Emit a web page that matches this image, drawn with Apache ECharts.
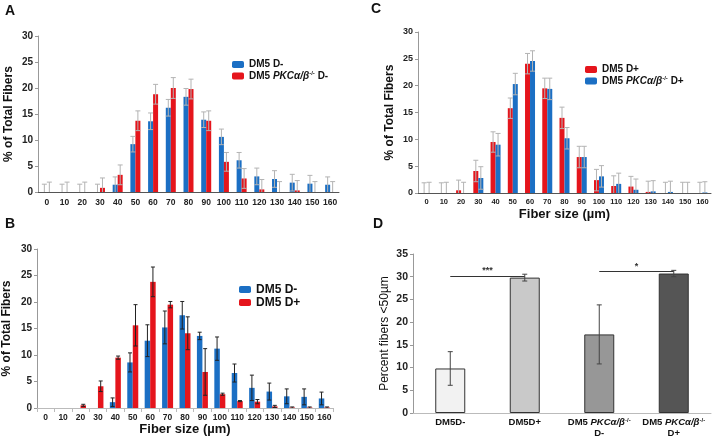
<!DOCTYPE html>
<html>
<head>
<meta charset="utf-8">
<script src="https://cdn.jsdelivr.net/npm/echarts@6/dist/echarts.min.js"></script>
<style>html,body{margin:0;padding:0;background:#fff}#c{width:716px;height:441px}</style>
</head>
<body>
<div id="c"></div>
<script>
// ---------- DATA ----------
const sizeCats = ['0','10','20','30','40','50','60','70','80','90','100','110','120','130','140','150','160'];

// Panel A
const aDm5Dminus     = [0,0,0,0,1.4,9.2,13.6,16.2,18.3,13.9,10.6,6.1,3.0,2.5,1.8,1.6,1.4];
const aDm5DminusErr  = [1.5,1.5,1.5,1.5,1.5,1.5,1.6,1.6,1.6,1.5,1.5,1.5,1.6,1.6,1.6,1.6,1.5];
const aPkcDminus     = [0,0,0,0.8,3.3,13.7,18.8,20.0,19.8,13.7,5.8,2.6,0.5,0,0.3,0,0];
const aPkcDminusErr  = [1.9,1.9,1.9,1.9,1.9,1.9,1.9,2.0,1.9,1.9,1.8,1.9,1.9,2.0,1.9,2.0,2.0];

// Panel B
const bDm5Dminus     = [0,0,0,0,1.1,8.6,12.7,15.2,17.5,13.6,11.2,6.6,3.8,3.1,2.2,2.1,1.8];
const bDm5DminusErr  = [0,0,0,0,0.8,1.8,3.0,3.1,2.6,0.7,2.2,1.7,2.4,1.6,1.4,1.5,1.2];
const bDm5Dplus      = [0,0,0.5,4.1,9.5,15.6,23.8,19.5,14.1,6.8,2.6,1.3,1.2,0.3,0.1,0.1,0.1];
const bDm5DplusErr   = [0,0,0.2,1.0,0.3,3.9,2.8,0.6,3.1,4.4,0.2,0.1,0.4,0.2,0.1,0.1,0.1];

// Panel C
const cDm5Dplus      = [0,0,0.5,4.1,9.5,15.8,24.1,19.5,14.0,6.7,2.4,1.3,1.2,0.2,0,0,0];
const cDm5DplusErr   = [1.9,1.9,1.9,2.0,1.9,1.9,1.9,1.9,2.0,2.0,2.0,1.9,1.9,2.0,2.0,2.0,2.0];
const cPkcDplus      = [0,0,0,2.8,9.0,20.3,24.6,19.4,10.2,6.7,3.1,1.7,0.6,0.3,0.2,0,0.1];
const cPkcDplusErr   = [2.0,2.0,2.0,2.1,2.1,2.0,1.9,2.0,2.0,2.0,2.0,2.0,2.0,2.0,2.0,2.0,2.0];

// Panel D
const dCats = ['DM5D-','DM5D+','DM5 {i|PKCα/β}{s|-/-}\nD-','DM5 {i|PKCα/β}{s|-/-}\nD+'];
const dVals = [9.8, 29.8, 17.3, 30.7];
const dErr  = [3.7, 0.75, 6.5, 0.7];
const dSig  = [{from:0, to:1, y:30.2, label:'***'}, {from:2, to:3, y:31.1, label:'*'}];

// ---------- STYLE ----------
const BLUE = '#1b6fc4', RED = '#e5151c';
const dColors = ['#f2f2f2','#c9c9c9','#979797','#555555'];
const FONT = 'Liberation Sans, Arial, sans-serif';
const legendRich = {
  i:{fontStyle:'italic', fontWeight:'bold', fontFamily:FONT},
  s:{fontSize:6, fontWeight:'bold', fontFamily:FONT, padding:[0,0,6,0]}
};
function legendFmt(name){
  return name.replace('PKCα/β-/-', '{i|PKCα/β}{s|-/-}');
}

function errSeries(ax, vals, errs, side, barW, color, capW){
  return {
    type:'custom', xAxisIndex:ax, yAxisIndex:ax, z:5, silent:true,
    data: vals.map((v,i)=>[i, v, errs[i]]),
    encode:{x:0, y:1},
    renderItem: function(params, api){
      const i = api.value(0), v = api.value(1), e = api.value(2);
      if (!e) return null;
      const hi = api.coord([i, v + e]);
      const loV = Math.max(0, v - e);
      const lo = api.coord([i, loV]);
      const x = hi[0] + side * barW / 2;
      const st = {stroke: color, lineWidth: 1};
      const ch = [
        {type:'line', shape:{x1:x, y1:hi[1], x2:x, y2:lo[1]}, style:st},
        {type:'line', shape:{x1:x-capW/2, y1:hi[1], x2:x+capW/2, y2:hi[1]}, style:st}
      ];
      if (v - e > 0) ch.push({type:'line', shape:{x1:x-capW/2, y1:lo[1], x2:x+capW/2, y2:lo[1]}, style:st});
      return {type:'group', children: ch};
    }
  };
}

function yAxisFor(gi, max, interval, fontSize, name, nameGap, bold, nameSize){
  return {
    type:'value', gridIndex:gi, min:0, max:max, interval:interval,
    axisLine:{show:true, lineStyle:{color:'#999'}},
    axisTick:{show:true, length:3, lineStyle:{color:'#999'}},
    splitLine:{show:false},
    axisLabel:{fontFamily:FONT, fontWeight:'bold', fontSize:fontSize, color:'#222', margin:5},
    name:name, nameLocation:'middle', nameRotate:90, nameGap:nameGap,
    nameTextStyle:{fontFamily:FONT, fontWeight: bold ? 'bold' : 'normal', fontSize:nameSize, color:'#111'}
  };
}

const barA = 5, barB = 5.5, barC = 5;

const option = {
  animation:false,
  backgroundColor:'#fff',
  title:[
    {text:'A', left:5, top:4, padding:0, textStyle:{fontFamily:FONT, fontSize:14, fontWeight:'bold', color:'#111'}},
    {text:'C', left:371, top:2, padding:0, textStyle:{fontFamily:FONT, fontSize:14, fontWeight:'bold', color:'#111'}},
    {text:'B', left:5, top:217, padding:0, textStyle:{fontFamily:FONT, fontSize:14, fontWeight:'bold', color:'#111'}},
    {text:'D', left:373, top:217, padding:0, textStyle:{fontFamily:FONT, fontSize:14, fontWeight:'bold', color:'#111'}}
  ],
  grid:[
    {left:38, top:36, width:301, height:156},
    {left:37, top:249, width:296, height:159},
    {left:418, top:32, width:293, height:161},
    {left:413, top:254, width:298, height:159}
  ],
  legend:[
    {orient:'vertical', left:232, top:59, padding:0, itemGap:0, itemWidth:12, itemHeight:7,
     data:['DM5 D-','DM5 PKCα/β-/- D-'], formatter:legendFmt, selectedMode:false,
     textStyle:{fontFamily:FONT, fontWeight:'bold', fontSize:10, lineHeight:11, color:'#111', rich:legendRich}},
    {orient:'vertical', left:239, top:283, padding:0, itemGap:0, itemWidth:12, itemHeight:7,
     data:['DM5 D-','DM5 D+'], selectedMode:false,
     textStyle:{fontFamily:FONT, fontWeight:'bold', fontSize:12, lineHeight:13, color:'#111'}},
    {orient:'vertical', left:585, top:64, padding:0, itemGap:0, itemWidth:12, itemHeight:7,
     data:['DM5 D+','DM5 PKCα/β-/- D+'], formatter:legendFmt, selectedMode:false,
     textStyle:{fontFamily:FONT, fontWeight:'bold', fontSize:10, lineHeight:11, color:'#111', rich:legendRich}}
  ],
  xAxis:[
    {type:'category', gridIndex:0, data:sizeCats,
     axisLine:{lineStyle:{color:'#555'}}, axisTick:{show:false},
     axisLabel:{fontFamily:FONT, fontWeight:'bold', fontSize:8.5, color:'#222', margin:6, interval:0}},
    {type:'category', gridIndex:1, data:sizeCats,
     axisLine:{lineStyle:{color:'#bbb'}}, axisTick:{show:true, length:4, lineStyle:{color:'#bbb'}},
     axisLabel:{fontFamily:FONT, fontWeight:'bold', fontSize:8.5, color:'#222', margin:5, interval:0},
     name:'Fiber size (µm)', nameLocation:'middle', nameGap:14,
     nameTextStyle:{fontFamily:FONT, fontWeight:'bold', fontSize:13, color:'#111', verticalAlign:'top'}},
    {type:'category', gridIndex:2, data:sizeCats,
     axisLine:{lineStyle:{color:'#555'}}, axisTick:{show:false},
     axisLabel:{fontFamily:FONT, fontWeight:'bold', fontSize:7.5, color:'#222', margin:5, interval:0},
     name:'Fiber size (µm)', nameLocation:'middle', nameGap:15,
     nameTextStyle:{fontFamily:FONT, fontWeight:'bold', fontSize:13, color:'#111', verticalAlign:'top'}},
    {type:'category', gridIndex:3, data:dCats,
     axisLine:{lineStyle:{color:'#bbb'}}, axisTick:{show:false},
     axisLabel:{fontFamily:FONT, fontWeight:'bold', fontSize:9.5, lineHeight:11, color:'#111', margin:4, interval:0,
       rich:{i:{fontStyle:'italic', fontWeight:'bold', fontSize:9.5, fontFamily:FONT},
             s:{fontSize:6, fontWeight:'bold', fontFamily:FONT, padding:[0,0,5,0]}}}}
  ],
  yAxis:[
    yAxisFor(0, 30, 5, 10, '% of Total Fibers', 23, true, 12),
    yAxisFor(1, 30, 5, 10, '% of Total Fibers', 24, true, 12),
    yAxisFor(2, 30, 5, 9, '% of Total Fibers', 22, true, 12),
    yAxisFor(3, 35, 5, 10.5, 'Percent fibers <50µm', 22, false, 12)
  ],
  series:[
    // Panel A
    {name:'DM5 D-', type:'bar', xAxisIndex:0, yAxisIndex:0, data:aDm5Dminus, barWidth:barA, barGap:'0%', itemStyle:{color:BLUE}},
    {name:'DM5 PKCα/β-/- D-', type:'bar', xAxisIndex:0, yAxisIndex:0, data:aPkcDminus, barWidth:barA, barGap:'0%', itemStyle:{color:RED}},
    errSeries(0, aDm5Dminus, aDm5DminusErr, -1, barA, '#b3b3b3', 5),
    errSeries(0, aPkcDminus, aPkcDminusErr, 1, barA, '#b3b3b3', 5),
    // Panel B
    {name:'DM5 D-', type:'bar', xAxisIndex:1, yAxisIndex:1, data:bDm5Dminus, barWidth:barB, barGap:'0%', itemStyle:{color:BLUE}},
    {name:'DM5 D+', type:'bar', xAxisIndex:1, yAxisIndex:1, data:bDm5Dplus, barWidth:barB, barGap:'0%', itemStyle:{color:RED}},
    errSeries(1, bDm5Dminus, bDm5DminusErr, -1, barB, '#222', 4),
    errSeries(1, bDm5Dplus, bDm5DplusErr, 1, barB, '#222', 4),
    // Panel C
    {name:'DM5 D+', type:'bar', xAxisIndex:2, yAxisIndex:2, data:cDm5Dplus, barWidth:barC, barGap:'0%', itemStyle:{color:RED}},
    {name:'DM5 PKCα/β-/- D+', type:'bar', xAxisIndex:2, yAxisIndex:2, data:cPkcDplus, barWidth:barC, barGap:'0%', itemStyle:{color:BLUE}},
    errSeries(2, cDm5Dplus, cDm5DplusErr, -1, barC, '#b3b3b3', 5),
    errSeries(2, cPkcDplus, cPkcDplusErr, 1, barC, '#b3b3b3', 5),
    // Panel D
    {name:'Percent fibers <50µm', type:'bar', xAxisIndex:3, yAxisIndex:3, barWidth:30,
     data:dVals.map((v,i)=>({value:v, itemStyle:{color:dColors[i], borderColor:'#333', borderWidth:1}})),
     markLine:{silent:true, symbol:'none', lineStyle:{color:'#333', width:1, type:'solid'},
       label:{show:true, position:'middle', formatter:'{b}', fontFamily:FONT, fontSize:9, fontWeight:'bold', color:'#333', distance:1},
       emphasis:{disabled:true},
       data: dSig.map(s=>[{name:s.label, coord:[s.from + 0.03, s.y]}, {coord:[s.to - 0.2, s.y]}])}},
    errSeries(3, dVals, dErr, 0, 0, '#444', 5)
  ]
};
const chart = echarts.init(document.getElementById('c'), null, {renderer:'canvas'});
chart.setOption(option);
</script>
</body>
</html>
